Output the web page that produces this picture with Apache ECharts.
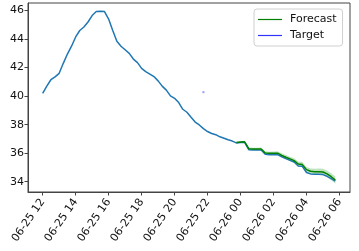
<!DOCTYPE html>
<html><head><meta charset="utf-8">
<script src="https://cdn.jsdelivr.net/npm/echarts@6/dist/echarts.min.js"></script>
<style>html,body{margin:0;padding:0;background:#fff}#c{width:359px;height:251px}</style>
</head><body><div id="c"></div>
<script>
// time: hours since 06-25 00:00, 15-minute steps starting at 06-25 12:00
const startHour = 12;
const stepHours = 0.25;
const actual = [40.2,40.7,41.15,41.35,41.6,42.3,42.95,43.5,44.15,44.6,44.85,45.2,45.65,45.93,45.96,45.93,
  45.4,44.6,43.85,43.5,43.25,43.0,42.6,42.35,41.95,41.72,41.55,41.37,41.07,40.7,40.42,40.02,
  39.85,39.55,39.08,38.87,38.52,38.18,37.98,37.72,37.52,37.38,37.3,37.15,37.05,36.94,36.85,
  36.72,36.75,36.76,36.25,36.22,36.22,36.22,35.92,35.9,35.9,35.9,35.75,35.62,35.5,35.38,
  35.1,35.08,34.65,34.55,34.52,34.52,34.5,34.38,34.22,34.05];
const forecastStartIndex = 47;
const forecast = [36.75,36.78,36.8,36.32,36.3,36.3,36.3,36.02,36.0,36.0,36.0,35.85,35.72,35.6,35.48,
  35.24,35.2,34.85,34.73,34.7,34.7,34.68,34.55,34.35,34.12];
const forecastLo = [36.70,36.72,36.73,36.24,36.22,36.21,36.20,35.91,35.89,35.88,35.87,35.71,35.57,35.45,35.32,
  35.07,35.02,34.66,34.53,34.49,34.48,34.45,34.31,34.10,33.88];
const forecastHi = [36.80,36.84,36.87,36.40,36.39,36.39,36.40,36.13,36.11,36.12,36.13,35.99,35.87,35.75,35.64,
  35.41,35.38,35.04,34.93,34.91,34.92,34.91,34.79,34.60,34.36];
const targetTime = [21.75];
const targetValue = [40.28];
const xTickHours = [12,14,16,18,20,22,24,26,28,30];
const xTickLabels = ['06-25 12','06-25 14','06-25 16','06-25 18','06-25 20','06-25 22','06-26 00','06-26 02','06-26 04','06-26 06'];
const yTicks = [34,36,38,40,42,44,46];

const actualData = actual.map((v,i)=>[startHour+stepHours*i, v]);
const fcData = forecast.map((v,i)=>[startHour+stepHours*(forecastStartIndex+i), v]);
const bandPts = forecastHi.map((v,i)=>[startHour+stepHours*(forecastStartIndex+i), v])
  .concat(forecastLo.map((v,i)=>[startHour+stepHours*(forecastStartIndex+i), v]).reverse());

const font = 'DejaVu Sans';
const axisColor = '#444';
const chart = echarts.init(document.getElementById('c'), null, {renderer:'canvas'});
chart.setOption({
  animation:false,
  backgroundColor:'#fff',
  grid:{left:28,right:9,top:3,bottom:59,show:true,borderColor:axisColor,borderWidth:1,backgroundColor:'transparent'},
  xAxis:{type:'value',min:11.11,max:30.64,
    axisLine:{show:true,lineStyle:{color:axisColor,width:1}},
    axisTick:{show:true,customValues:xTickHours,length:3.5,lineStyle:{color:axisColor}},
    axisLabel:{customValues:xTickHours,rotate:55,fontSize:11,fontFamily:font,color:'#111',margin:8,
      formatter:(v)=>{const k=xTickHours.indexOf(Math.round(v));return k>=0?xTickLabels[k]:'';}},
    splitLine:{show:false}},
  yAxis:{type:'value',min:33.28,max:46.53,
    axisLine:{show:true,lineStyle:{color:axisColor,width:1}},
    axisTick:{show:true,customValues:yTicks,length:3.5,lineStyle:{color:axisColor}},
    axisLabel:{customValues:yTicks,fontSize:11,fontFamily:font,color:'#111',margin:4},
    splitLine:{show:false}},
  legend:{left:254,top:9,orient:'vertical',padding:[4,6,4,4],itemGap:3,
    backgroundColor:'rgba(255,255,255,0.8)',borderColor:'#d0d0d0',borderWidth:1,borderRadius:3,
    itemWidth:24,itemHeight:1.2,
    textStyle:{fontSize:11,fontFamily:font,color:'#111',padding:[0,0,0,3],lineHeight:13},
    data:[{name:'Forecast',icon:'rect',itemStyle:{color:'#008000'}},{name:'Target',icon:'rect',itemStyle:{color:'#0000ff'}}]},
  series:[
    {type:'custom',name:'band',silent:true,clip:true,data:[[0]],
      renderItem:(params,api)=>({type:'polygon',shape:{points:bandPts.map(p=>api.coord(p))},
        style:{fill:'rgba(44,160,44,0.3)',stroke:'none'}})},
    {type:'line',name:'history',data:actualData,symbol:'none',lineStyle:{color:'#1f77b4',width:1.5},itemStyle:{color:'#1f77b4'},z:3},
    {type:'line',name:'Forecast',data:fcData,symbol:'none',lineStyle:{color:'#008000',width:1.5},itemStyle:{color:'#008000'},z:4},
    {type:'scatter',name:'Target',data:targetTime.map((t,i)=>[t,targetValue[i]]),symbol:'rect',symbolSize:2,
      itemStyle:{color:'#8080ff'},z:5}
  ]
});
</script></body></html>
